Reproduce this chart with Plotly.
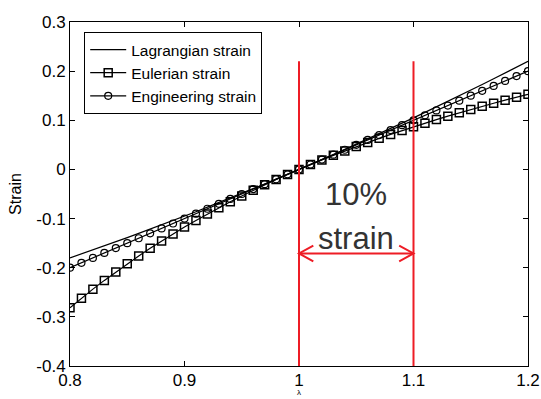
import plotly.graph_objects as go

stretch = [0.80, 0.81, 0.82, 0.83, 0.84, 0.85, 0.86, 0.87, 0.88, 0.89,
           0.90, 0.91, 0.92, 0.93, 0.94, 0.95, 0.96, 0.97, 0.98, 0.99,
           1.00, 1.01, 1.02, 1.03, 1.04, 1.05, 1.06, 1.07, 1.08, 1.09,
           1.10, 1.11, 1.12, 1.13, 1.14, 1.15, 1.16, 1.17, 1.18, 1.19, 1.20]

lagrangian = [-0.1800, -0.1720, -0.1638, -0.1556, -0.1472, -0.1388, -0.1302, -0.1216, -0.1128, -0.1040,
              -0.0950, -0.0860, -0.0768, -0.0676, -0.0582, -0.0488, -0.0392, -0.0296, -0.0198, -0.0100,
              0.0000, 0.0101, 0.0202, 0.0305, 0.0408, 0.0513, 0.0618, 0.0725, 0.0832, 0.0941,
              0.1050, 0.1161, 0.1272, 0.1385, 0.1498, 0.1613, 0.1728, 0.1845, 0.1962, 0.2081, 0.2200]

eulerian = [-0.2813, -0.2621, -0.2436, -0.2258, -0.2086, -0.1920, -0.1760, -0.1606, -0.1457, -0.1312,
            -0.1173, -0.1038, -0.0907, -0.0781, -0.0659, -0.0540, -0.0425, -0.0314, -0.0206, -0.0102,
            0.0000, 0.0099, 0.0194, 0.0287, 0.0377, 0.0465, 0.0550, 0.0633, 0.0713, 0.0792,
            0.0868, 0.0942, 0.1014, 0.1084, 0.1153, 0.1219, 0.1284, 0.1347, 0.1409, 0.1469, 0.1528]

engineering = [-0.20, -0.19, -0.18, -0.17, -0.16, -0.15, -0.14, -0.13, -0.12, -0.11,
               -0.10, -0.09, -0.08, -0.07, -0.06, -0.05, -0.04, -0.03, -0.02, -0.01,
               0.00, 0.01, 0.02, 0.03, 0.04, 0.05, 0.06, 0.07, 0.08, 0.09,
               0.10, 0.11, 0.12, 0.13, 0.14, 0.15, 0.16, 0.17, 0.18, 0.19, 0.20]

band_start, band_end = 1.0, 1.1
band_top = 0.22
arrow_y = -0.171
label_lines = ["10%", "strain"]

x_ticks = [0.8, 0.9, 1.0, 1.1, 1.2]
x_tick_text = ["0.8", "0.9", "1", "1.1", "1.2"]
y_ticks = [-0.4, -0.3, -0.2, -0.1, 0.0, 0.1, 0.2, 0.3]
y_tick_text = ["-0.4", "-0.3", "-0.2", "-0.1", "0", "0.1", "0.2", "0.3"]

RED = "#ee1c25"
FONT = "Liberation Sans, Arial, sans-serif"

fig = go.Figure()
fig.add_trace(go.Scatter(x=stretch, y=lagrangian, mode="lines", name="Lagrangian strain",
                         line=dict(color="black", width=1.2)))
fig.add_trace(go.Scatter(x=stretch, y=eulerian, mode="lines+markers", name="Eulerian strain",
                         line=dict(color="black", width=1.2),
                         marker=dict(symbol="square-open", size=8, color="black",
                                     line=dict(width=1.5, color="black"))))
fig.add_trace(go.Scatter(x=stretch, y=engineering, mode="lines+markers", name="Engineering strain",
                         line=dict(color="black", width=1.2),
                         marker=dict(symbol="circle-open", size=7, color="black",
                                     line=dict(width=1.2, color="black"))))

shapes = []
for xv in (band_start, band_end):
    shapes.append(dict(type="line", xref="x", yref="y", x0=xv, x1=xv, y0=-0.4, y1=band_top,
                       line=dict(color=RED, width=2)))
shapes.append(dict(type="line", xref="x", yref="y", x0=band_start, x1=band_end, y0=arrow_y, y1=arrow_y,
                   line=dict(color=RED, width=2)))
hx, hy = 0.0125, 0.016
shapes.append(dict(type="path", xref="x", yref="y",
                   path=f"M {band_start+hx},{arrow_y+hy} L {band_start},{arrow_y} L {band_start+hx},{arrow_y-hy}",
                   line=dict(color=RED, width=2)))
shapes.append(dict(type="path", xref="x", yref="y",
                   path=f"M {band_end-hx},{arrow_y+hy} L {band_end},{arrow_y} L {band_end-hx},{arrow_y-hy}",
                   line=dict(color=RED, width=2)))

annotations = [
    dict(x=(band_start + band_end) / 2, y=-0.051, xref="x", yref="y", text=label_lines[0],
         showarrow=False, font=dict(family=FONT, size=31, color="#333333")),
    dict(x=(band_start + band_end) / 2, y=-0.140, xref="x", yref="y", text=label_lines[1],
         showarrow=False, font=dict(family=FONT, size=31, color="#333333")),
    dict(x=1.0, y=-0.097, xref="x", yref="paper", text="λ", showarrow=False, yanchor="bottom",
         font=dict(family=FONT, size=8, color="black")),
]

axis_common = dict(showgrid=False, zeroline=False, showline=True, linecolor="black", linewidth=1,
                   mirror="ticks", ticks="inside", ticklen=5, tickcolor="black", tickwidth=1,
                   automargin=False,
                   tickfont=dict(family=FONT, size=17, color="black"))

fig.update_layout(
    width=541, height=399,
    margin=dict(l=70, r=13, t=22, b=33),
    plot_bgcolor="white", paper_bgcolor="white",
    font=dict(family=FONT, color="black"),
    xaxis=dict(range=[0.8, 1.2], tickvals=x_ticks, ticktext=x_tick_text,
               ticklabelstandoff=-1, **axis_common),
    yaxis=dict(range=[-0.4, 0.3], tickvals=y_ticks, ticktext=y_tick_text,
               ticklabelstandoff=0,
               title=dict(text="Strain", font=dict(family=FONT, size=16), standoff=10),
               **axis_common),
    legend=dict(x=0.031, y=0.971, xanchor="left", yanchor="top", bgcolor="white",
                bordercolor="black", borderwidth=1, font=dict(family=FONT, size=15.5),
                tracegroupgap=0, itemwidth=36),
    shapes=shapes, annotations=annotations, showlegend=True,
)

fig.write_html("out.html", config={"displayModeBar": False},
               post_script="document.body.style.margin='0';document.body.style.padding='0';"
                           "document.body.style.overflow='hidden';")
